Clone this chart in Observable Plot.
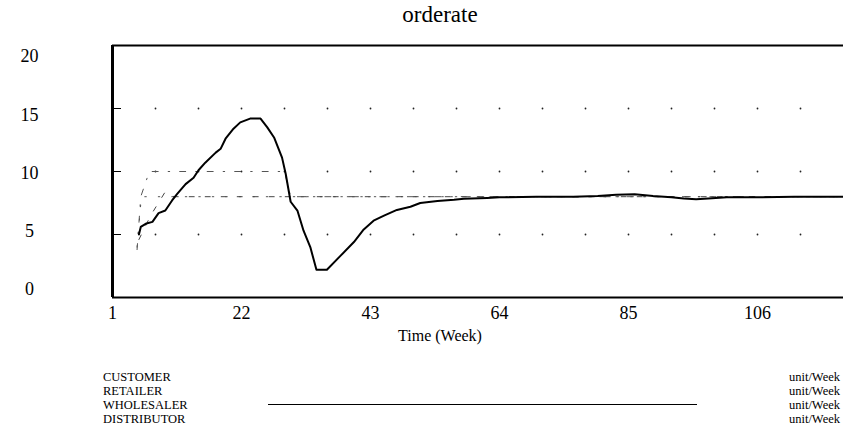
<!DOCTYPE html>
<html><head><meta charset="utf-8">
<script src="https://cdn.jsdelivr.net/npm/d3@7"></script>
<script src="https://cdn.jsdelivr.net/npm/@observablehq/plot@0.6"></script>
<style>
body{margin:0;background:#fff;}
#wrap{position:relative;width:843px;height:442px;overflow:hidden;font-family:"Liberation Serif","Times New Roman",serif;color:#000;background:#fff;}
#wrap svg{position:absolute;left:0;top:0;}
.lbl{position:absolute;white-space:nowrap;line-height:1;font-family:"Liberation Serif","Times New Roman",serif;}
</style></head><body><div id="wrap"></div>
<script>
// ---- text ----
const chartTitle = "orderate";
const xLabel = "Time (Week)";
const unitLabel = "unit/Week";
const seriesNames = ["CUSTOMER", "RETAILER", "WHOLESALER", "DISTRIBUTOR"];

// ---- axes ----
const xDomain = [1, 120];
const yDomain = [0, 20];
const xTicks = [1, 22, 43, 64, 85, 106];
const yTicks = [0, 5, 10, 15, 20];
const gridWeeks = [1, 8, 15, 22, 29, 36, 43, 50, 57, 64, 71, 78, 85, 92, 99, 106, 113];
const gridValues = [5, 10, 15];

// ---- series ----
const wholesalerWeek  = [5.3, 5.6, 6.4, 7.5, 8.5, 9.6, 10.7, 11.5, 12.9, 14.2, 15.0, 16.1, 17.8, 18.6, 19.4, 20.7, 21.8, 23.4, 25.1, 26.2, 27.3, 28.6, 29.2, 30.0, 31.1, 32.1, 33.2, 34.2, 35.9, 38.1, 40.3, 41.9, 43.5, 45.2, 47.3, 49.5, 51.1, 53.9, 56.6, 58.2, 62.0, 64, 70, 76, 80, 83, 86, 89, 92, 94, 96, 98, 101, 106, 112, 120];
const wholesalerValue = [5.0, 5.6, 5.85, 6.0, 6.7, 6.9, 7.7, 8.2, 9.0, 9.5, 10.1, 10.7, 11.5, 11.8, 12.6, 13.4, 13.9, 14.2, 14.2, 13.5, 12.7, 11.1, 9.8, 7.6, 6.9, 5.3, 4.0, 2.2, 2.2, 3.3, 4.4, 5.4, 6.1, 6.5, 6.95, 7.2, 7.5, 7.65, 7.75, 7.83, 7.9, 7.95, 8.0, 8.0, 8.05, 8.15, 8.2, 8.05, 7.95, 7.85, 7.8, 7.85, 7.95, 7.95, 8.0, 8.0];

const customerWeek  = [5.0, 5.7, 120];
const customerValue = [4.0, 8.0, 8.0];

const retailerWeek  = [5.3, 7.2, 9.6, 11.0, 120];
const retailerValue = [4.6, 6.5, 8.4, 8.0, 8.0];

const distributorWeek  = [5.0, 5.6, 7.0, 29.0, 30.0, 120];
const distributorValue = [3.8, 8.0, 10.0, 10.0, 8.0, 8.0];

const toRows = (w, v) => w.map((d, i) => ({week: d, value: v[i]}));
const wholesaler = toRows(wholesalerWeek, wholesalerValue);
const customer = toRows(customerWeek, customerValue);
const retailer = toRows(retailerWeek, retailerValue);
const distributor = toRows(distributorWeek, distributorValue);
const gridPts = gridWeeks.flatMap(w => gridValues.map(v => ({week: w, value: v})));

const font = "'Liberation Serif', 'Times New Roman', serif";
const W = 843, H = 442, mL = 112, mT = 45, mB = 145;

const main = Plot.plot({
  width: W, height: H,
  marginTop: mT, marginBottom: mB, marginLeft: mL, marginRight: 0,
  x: {domain: xDomain, ticks: xTicks, tickSize: 0, tickPadding: 9, label: null, tickFormat: d => String(d)},
  y: {domain: yDomain, axis: null},
  style: {fontFamily: font, fontSize: "18px", background: "transparent", color: "#000", overflow: "visible"},
  marks: [
    Plot.dot(gridPts, {x: "week", y: "value", r: 0.9, fill: "#222", stroke: null}),
    Plot.ruleY(gridValues, {stroke: "#000", strokeWidth: 1, insetRight: W - mL - 9}),
    Plot.line(customer, {x: "week", y: "value", stroke: "#555", strokeWidth: 1, strokeDasharray: "1.5,12"}),
    Plot.line(retailer, {x: "week", y: "value", stroke: "#444", strokeWidth: 1, strokeDasharray: "5,11"}),
    Plot.line(distributor, {x: "week", y: "value", stroke: "#555", strokeWidth: 1, strokeDasharray: "6,10,1.5,10"}),
    Plot.line(wholesaler, {x: "week", y: "value", stroke: "#000", strokeWidth: 2, strokeLinejoin: "round"}),
    Plot.ruleX([xDomain[0]], {stroke: "#000", strokeWidth: 3}),
    Plot.ruleY(yDomain, {stroke: "#000", strokeWidth: 2})
  ]
});

const yAxisPlot = Plot.plot({
  width: 60, height: H,
  marginTop: 56, marginBottom: 153, marginLeft: 0, marginRight: 0,
  x: {axis: null},
  y: {domain: yDomain, axis: null},
  style: {fontFamily: font, fontSize: "18px", background: "transparent", color: "#000", overflow: "visible"},
  marks: [
    Plot.text(yTicks, {y: d => d, text: d => String(d), frameAnchor: "left", dx: 29, textAnchor: "middle", fontSize: 18, fontFamily: font})
  ]
});

const wrap = document.getElementById("wrap");
wrap.appendChild(main);
wrap.appendChild(yAxisPlot);

function label(txt, css) {
  const el = document.createElement("div");
  el.className = "lbl";
  el.textContent = txt;
  Object.assign(el.style, css);
  wrap.appendChild(el);
  return el;
}
label(chartTitle, {left: "440px", top: "3px", fontSize: "23px", transform: "translateX(-50%)"});
label(xLabel, {left: "440px", top: "328px", fontSize: "16px", transform: "translateX(-50%)"});
seriesNames.forEach((name, i) => {
  const top = 371 + 14 * i;
  label(name, {left: "103px", top: top + "px", fontSize: "12.5px"});
  label(unitLabel, {right: (W - 840) + "px", top: top + "px", fontSize: "12.5px"});
});
// legend swatch for the visible (solid) series
const sw = document.createElement("div");
Object.assign(sw.style, {position: "absolute", left: "268px", width: "429px", top: (371 + 14 * 2 + 5) + "px", height: "0", borderTop: "1.5px solid #000"});
wrap.appendChild(sw);
</script></body></html>
